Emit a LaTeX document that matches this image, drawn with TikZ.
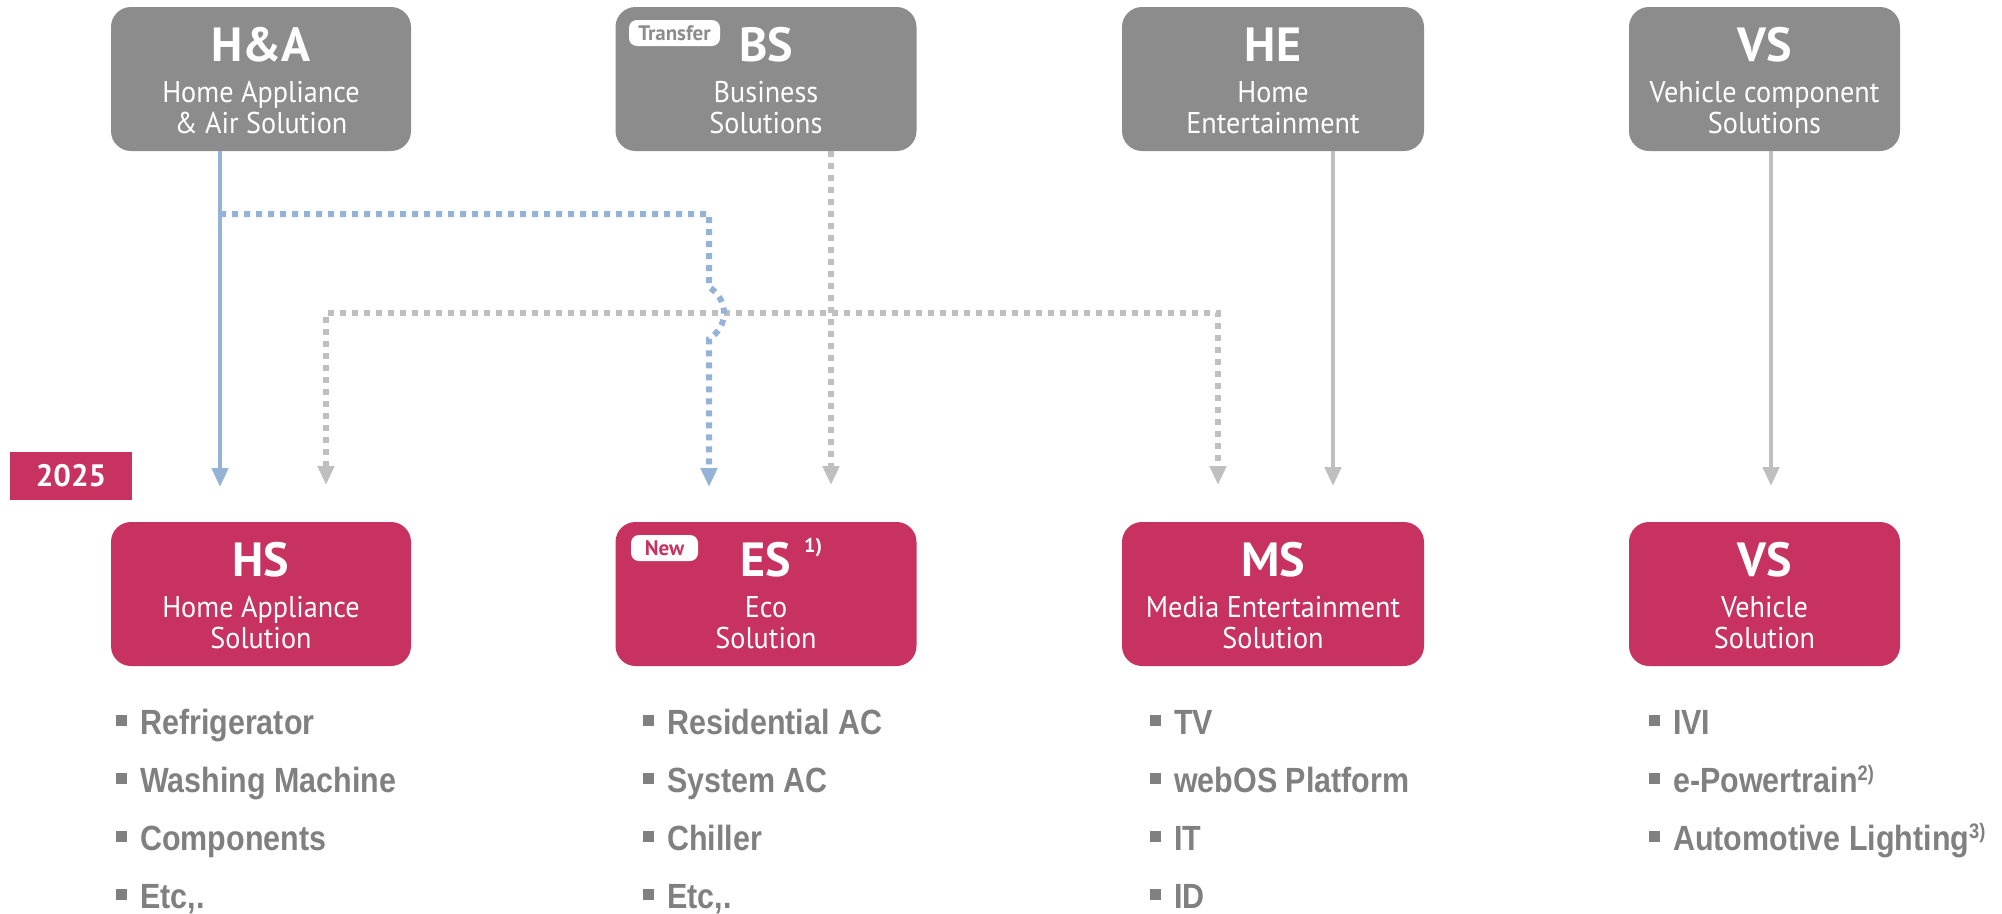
\documentclass[tikz,border=0pt]{standalone}
\usepackage{fontspec}
\setmainfont{PT Sans}
\newfontfamily\subfont[FakeStretch=0.94]{PT Sans}
\newfontfamily\listfont[FakeStretch=0.87]{Liberation Sans}
\usetikzlibrary{arrows.meta}
\definecolor{boxgray}{RGB}{140,140,140}
\definecolor{lgpink}{RGB}{200,50,96}
\definecolor{arrowblue}{RGB}{149,179,215}
\definecolor{arrowgray}{RGB}{191,191,191}
\definecolor{textgray}{RGB}{128,128,128}
\newcommand\bulletsq{{\color{textgray}\rule[8pt]{11pt}{11pt}}\hspace{13pt}}
\newcommand\supnote[1]{\raisebox{12pt}{\fontsize{21}{21}\selectfont #1}}
\begin{document}
\begin{tikzpicture}[x=1pt,y=-1pt,
  unit/.style={rounded corners=20pt, minimum height=144pt, inner sep=0pt, draw=none},
  oldunit/.style={unit, fill=boxgray},
  newunit/.style={unit, fill=lgpink},
  ttl/.style={anchor=base, text=white, inner sep=0pt, font=\fontsize{48}{48}\selectfont\bfseries},
  sub/.style={anchor=base, text=white, inner sep=0pt, font=\subfont\fontsize{30}{30}\selectfont},
  tagbox/.style={fill=white, rounded corners=8pt, minimum height=26pt, inner sep=0pt, font=\fontsize{21}{21}\selectfont\bfseries},
  itemtext/.style={anchor=base west, inner sep=0pt, text=textgray, font=\listfont\fontsize{35}{35}\selectfont\bfseries},
  bluesolid/.style={draw=arrowblue, line width=4.5pt, -{Triangle[width=16pt,length=19pt]}},
  graysolid/.style={draw=arrowgray, line width=4.5pt, -{Triangle[width=16pt,length=19pt]}},
  bluedot/.style={draw=arrowblue, line width=6pt, dash pattern=on 6pt off 6pt, -{Triangle[width=16pt,length=19pt]}},
  graydot/.style={draw=arrowgray, line width=5.5pt, dash pattern=on 6pt off 6pt}
]
\useasboundingbox (0,0) rectangle (2002,913);

% ---- top (old) units
\node[oldunit, minimum width=300pt] (haT) at (261,79) {};
\node[oldunit, minimum width=301pt] (bsT) at (766,79) {};
\node[oldunit, minimum width=302pt] (heT) at (1273,79) {};
\node[oldunit, minimum width=271pt] (vsT) at (1764.5,79) {};

\node[ttl] (haTt) at ([yshift=-55pt]haT.north) {H\&A};
\node[sub] (haTs1) at ([yshift=-96pt]haT.north) {Home Appliance};
\node[sub] (haTs2) at ([yshift=-127pt]haT.north) {\& Air Solution};

\node[ttl] (bsTt) at ([yshift=-55pt]bsT.north) {BS};
\node[sub] (bsTs1) at ([yshift=-96pt]bsT.north) {Business};
\node[sub] (bsTs2) at ([yshift=-127pt]bsT.north) {Solutions};
\node[tagbox, minimum width=91pt, text=boxgray] (transfer) at (674.5,33) {Transfer};

\node[ttl] (heTt) at ([yshift=-55pt]heT.north) {HE};
\node[sub] (heTs1) at ([yshift=-96pt]heT.north) {Home};
\node[sub] (heTs2) at ([yshift=-127pt]heT.north) {Entertainment};

\node[ttl] (vsTt) at ([yshift=-55pt]vsT.north) {VS};
\node[sub] (vsTs1) at ([yshift=-96pt]vsT.north) {Vehicle component};
\node[sub] (vsTs2) at ([yshift=-127pt]vsT.north) {Solutions};

% ---- year label
\node[fill=lgpink, minimum width=122pt, minimum height=48pt, inner sep=0pt, text=white,
      font=\fontsize{31}{31}\selectfont\bfseries] (year) at (71,476) {2025};

% ---- bottom (new) units
\node[newunit, minimum width=300pt] (hs) at (261,594) {};
\node[newunit, minimum width=301pt] (es) at (766,594) {};
\node[newunit, minimum width=302pt] (ms) at (1273,594) {};
\node[newunit, minimum width=271pt] (vsB) at (1764.5,594) {};

\node[ttl] (hst) at ([yshift=-55pt]hs.north) {HS};
\node[sub] (hss1) at ([yshift=-96pt]hs.north) {Home Appliance};
\node[sub] (hss2) at ([yshift=-127pt]hs.north) {Solution};

\node[ttl] (est) at ([yshift=-55pt]es.north) {ES};
\node[anchor=base west, inner sep=0pt, text=white, font=\fontsize{20}{20}\selectfont\bfseries] (esnote) at (804,552) {1)};
\node[sub] (ess1) at ([yshift=-96pt]es.north) {Eco};
\node[sub] (ess2) at ([yshift=-127pt]es.north) {Solution};
\node[tagbox, minimum width=67pt, text=lgpink] (newtag) at (664.5,548) {New};

\node[ttl] (mst) at ([yshift=-55pt]ms.north) {MS};
\node[sub] (mss1) at ([yshift=-96pt]ms.north) {Media Entertainment};
\node[sub] (mss2) at ([yshift=-127pt]ms.north) {Solution};

\node[ttl] (vsBt) at ([yshift=-55pt]vsB.north) {VS};
\node[sub] (vsBs1) at ([yshift=-96pt]vsB.north) {Vehicle};
\node[sub] (vsBs2) at ([yshift=-127pt]vsB.north) {Solution};

% ---- connector end points
\coordinate (hsA) at (220,487);
\coordinate (hsB) at (326,485);
\coordinate (esA) at (709,487);
\coordinate (esB) at (831,485);
\coordinate (msA) at (1218,485);
\coordinate (msB) at (1333,486);
\coordinate (vsA) at (1771,486);
\coordinate (bluerow) at (0,214);
\coordinate (grayrow) at (0,313);
\coordinate (hopin) at (709,287);
\coordinate (hopout) at (709,339);

% ---- connectors
\draw[bluesolid] (hsA |- haT.south) -- (hsA);
\draw[graydot, -{Triangle[width=16pt,length=19pt]}] (esB |- bsT.south) -- (esB);
\draw[graydot, {Triangle[width=16pt,length=19pt]}-{Triangle[width=16pt,length=19pt]}]
  (hsB) -- (hsB |- grayrow) -- (msA |- grayrow) -- (msA);
\draw[graysolid] (msB |- heT.south) -- (msB);
\draw[graysolid] (vsA |- vsT.south) -- (vsA);
\draw[bluedot] (hsA |- bluerow) -- (esA |- bluerow) -- (hopin)
  .. controls (729,300) and (729,326) .. (hopout) -- (esA);

% ---- product lists
\node[itemtext] (hs1) at (116,734) {\bulletsq Refrigerator};
\node[itemtext] (hs2) at (116,792) {\bulletsq Washing Machine};
\node[itemtext] (hs3) at (116,850) {\bulletsq Components};
\node[itemtext] (hs4) at (116,908) {\bulletsq Etc,.};

\node[itemtext] (es1) at (643,734) {\bulletsq Residential AC};
\node[itemtext] (es2) at (643,792) {\bulletsq System AC};
\node[itemtext] (es3) at (643,850) {\bulletsq Chiller};
\node[itemtext] (es4) at (643,908) {\bulletsq Etc,.};

\node[itemtext] (ms1) at (1150,734) {\bulletsq TV};
\node[itemtext] (ms2) at (1150,792) {\bulletsq webOS Platform};
\node[itemtext] (ms3) at (1150,850) {\bulletsq IT};
\node[itemtext] (ms4) at (1150,908) {\bulletsq ID};

\node[itemtext] (vs1) at (1649,734) {\bulletsq IVI};
\node[itemtext] (vs2) at (1649,792) {\bulletsq e-Powertrain\supnote{2)}};
\node[itemtext] (vs3) at (1649,850) {\bulletsq Automotive Lighting\supnote{3)}};
\end{tikzpicture}
\end{document}
